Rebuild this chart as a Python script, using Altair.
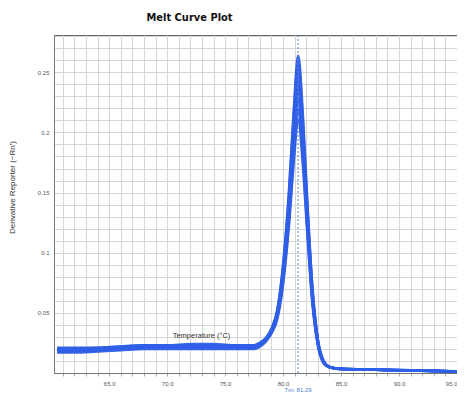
import altair as alt
import pandas as pd

temps = [60.5, 62, 64, 66, 68, 70, 72, 74, 76, 77, 77.5, 78, 78.5, 79, 79.5, 80,
         80.5, 80.9, 81.3, 81.7, 82.1, 82.5, 83, 83.5, 84, 84.5, 85, 87, 89, 91, 93, 95]

well_a = [0.019, 0.019, 0.020, 0.021, 0.022, 0.022, 0.022, 0.022, 0.022, 0.022, 0.022, 0.024, 0.028, 0.036, 0.052, 0.090,
          0.150, 0.215, 0.264, 0.215, 0.140, 0.075, 0.028, 0.010, 0.005, 0.004, 0.0035, 0.003, 0.0025, 0.002, 0.0018, 0.0012]
well_b = [0.021, 0.021, 0.021, 0.022, 0.023, 0.023, 0.024, 0.024, 0.023, 0.023, 0.023, 0.025, 0.029, 0.037, 0.052, 0.088,
          0.147, 0.210, 0.258, 0.210, 0.137, 0.073, 0.027, 0.010, 0.005, 0.004, 0.0035, 0.003, 0.0026, 0.0022, 0.0018, 0.0013]
well_c = [0.017, 0.017, 0.018, 0.019, 0.020, 0.020, 0.020, 0.020, 0.020, 0.020, 0.020, 0.022, 0.026, 0.034, 0.049, 0.085,
          0.142, 0.203, 0.250, 0.203, 0.133, 0.071, 0.026, 0.009, 0.005, 0.0038, 0.0033, 0.0029, 0.0024, 0.002, 0.0017, 0.0012]
well_d = [0.020, 0.020, 0.020, 0.021, 0.022, 0.022, 0.023, 0.023, 0.022, 0.022, 0.022, 0.024, 0.028, 0.035, 0.049, 0.083,
          0.139, 0.197, 0.243, 0.198, 0.130, 0.069, 0.026, 0.009, 0.005, 0.004, 0.0034, 0.003, 0.0025, 0.0021, 0.0018, 0.0013]
well_e = [0.018, 0.018, 0.019, 0.020, 0.021, 0.021, 0.021, 0.021, 0.021, 0.021, 0.021, 0.023, 0.027, 0.034, 0.048, 0.081,
          0.135, 0.192, 0.236, 0.192, 0.126, 0.067, 0.025, 0.009, 0.005, 0.0038, 0.0033, 0.0029, 0.0024, 0.002, 0.0017, 0.0012]
well_f = [0.019, 0.019, 0.020, 0.021, 0.021, 0.022, 0.022, 0.022, 0.022, 0.021, 0.021, 0.023, 0.027, 0.034, 0.047, 0.079,
          0.131, 0.186, 0.228, 0.186, 0.122, 0.065, 0.024, 0.009, 0.005, 0.0039, 0.0034, 0.003, 0.0025, 0.0021, 0.0017, 0.0012]
well_g = [0.020, 0.020, 0.021, 0.022, 0.023, 0.023, 0.023, 0.023, 0.023, 0.023, 0.023, 0.025, 0.028, 0.035, 0.047, 0.077,
          0.127, 0.179, 0.219, 0.180, 0.118, 0.063, 0.024, 0.009, 0.005, 0.004, 0.0035, 0.003, 0.0026, 0.0022, 0.0018, 0.0013]
well_h = [0.018, 0.018, 0.019, 0.020, 0.021, 0.021, 0.022, 0.022, 0.021, 0.021, 0.021, 0.023, 0.027, 0.033, 0.045, 0.074,
          0.122, 0.173, 0.211, 0.174, 0.115, 0.061, 0.023, 0.008, 0.0048, 0.0038, 0.0033, 0.0029, 0.0024, 0.002, 0.0017, 0.0012]

wells = {"A1": well_a, "A2": well_b, "A3": well_c, "A4": well_d,
         "A5": well_e, "A6": well_f, "A7": well_g, "A8": well_h}

tm_value = 81.29
x_grid = list(range(61, 96))
y_grid = [round(i * 0.01, 2) for i in range(0, 29)]

rows = []
for name, vals in wells.items():
    for t, v in zip(temps, vals):
        rows.append({"well": name, "temp": t, "deriv": v})
df = pd.DataFrame(rows)
tm_df = pd.DataFrame({"temp": [tm_value], "label": [f"Tm: {tm_value:.2f}"]})

W, H = 403, 338
FONT = "Liberation Sans, Arial, sans-serif"
COND = "'DejaVu Sans Condensed', 'Liberation Sans', sans-serif"
BLUE = "#2f5fe6"

x_scale = alt.Scale(domain=[60.24, 95], nice=False, zero=False)
y_scale = alt.Scale(domain=[0, 0.281], nice=False, zero=False)

x_axis = alt.Axis(
    values=x_grid, tickCount=200,
    labelExpr="datum.value % 5 == 0 ? format(datum.value, '.1f') : ''",
    title="Temperature (°C)", titleX=147, titleY=-42, titleFont=FONT,
    titleFontSize=7.5, titleFontWeight="normal", titleColor="#333",
    labelFont=FONT, labelFontSize=6, labelColor="#555", labelPadding=4,
    tickSize=3, tickColor="#aaa", domainColor="#777",
    grid=True, gridColor="#d6d6d6", gridWidth=1, labelOverlap=False,
)
y_axis = alt.Axis(
    values=y_grid, tickCount=200,
    labelExpr="(round(datum.value*100) % 5 == 0 && datum.value > 0) ? toString(round(datum.value*100)/100) : ''",
    title="Derivative Reporter (−Rn′)", titleX=-42, titleY=152, titleAngle=-90,
    titleFont=FONT, titleFontSize=8, titleFontWeight="normal", titleColor="#333",
    titleAlign="center", titleBaseline="middle",
    labelFont=FONT, labelFontSize=6, labelColor="#555", labelPadding=5,
    ticks=False, domainColor="#777",
    grid=True, gridColor="#d6d6d6", gridWidth=1, labelOverlap=False,
)

lines = alt.Chart(df).mark_line(strokeWidth=2.6, color=BLUE, interpolate="monotone", opacity=0.95).encode(
    x=alt.X("temp:Q", scale=x_scale, axis=x_axis),
    y=alt.Y("deriv:Q", scale=y_scale, axis=y_axis),
    detail="well:N",
)

tm_rule = alt.Chart(tm_df).mark_rule(color="#5b84d6", strokeDash=[2, 2], strokeWidth=1).encode(
    x=alt.X("temp:Q", scale=x_scale, axis=x_axis),
)

tm_text = alt.Chart(tm_df).mark_text(font=FONT, fontSize=6, color="#4a7ad0", baseline="middle").encode(
    x=alt.X("temp:Q", scale=x_scale, axis=x_axis),
    y=alt.value(H + 17),
    text="label:N",
)

chart = alt.layer(lines, tm_rule, tm_text).properties(
    width=W, height=H,
    title=alt.TitleParams("Melt Curve Plot", font=COND, fontSize=11, fontWeight="bold",
                          color="#111", anchor="middle", dx=-66, offset=10),
    padding={"left": 46, "top": 27, "right": 0, "bottom": 19},
    autosize="none",
).configure_view(stroke="#666", strokeWidth=1)

chart.save("out.html", embed_options={"renderer": "svg", "actions": False})
